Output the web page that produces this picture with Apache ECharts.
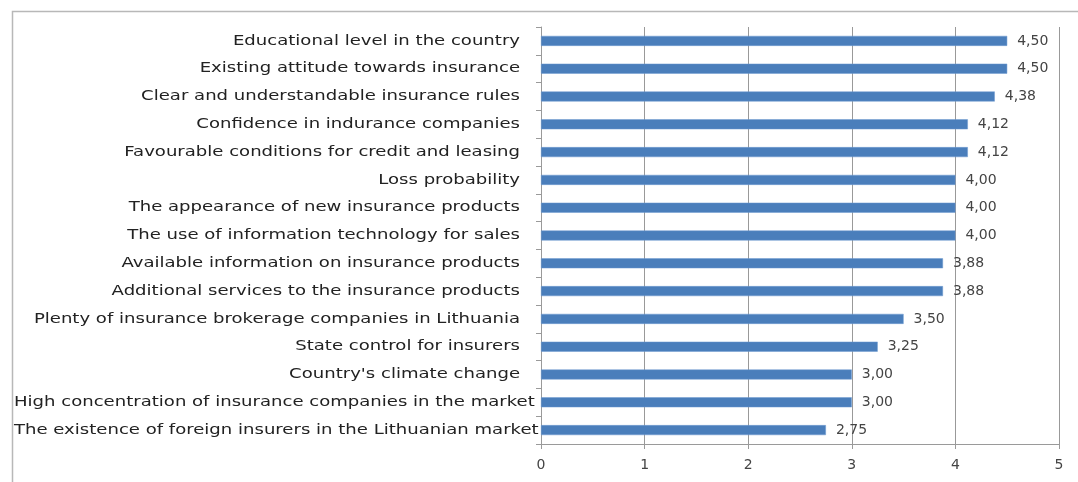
<!DOCTYPE html>
<html>
<head>
<meta charset="utf-8">
<script src="https://cdn.jsdelivr.net/npm/echarts@6/dist/echarts.min.js"></script>
<style>
  html, body { margin: 0; padding: 0; background: #fff; }
  #chart { width: 1078px; height: 482px; }
</style>
</head>
<body>
<div id="chart"></div>
<script>
// Factors influencing the insurance market, average score (0–5)
const factors = [
  "Educational level in the country",
  "Existing attitude towards insurance",
  "Clear and understandable insurance rules",
  "Confidence in indurance companies",
  "Favourable conditions for credit and leasing",
  "Loss probability",
  "The appearance of new insurance products",
  "The use of information technology for sales",
  "Available information on insurance products",
  "Additional services to the insurance products",
  "Plenty of insurance brokerage companies in Lithuania",
  "State control for insurers",
  "Country's climate change",
  "High concentration of insurance companies in the market",
  "The existence of foreign insurers in the Lithuanian market"
];
const scores = [4.50, 4.50, 4.38, 4.12, 4.12, 4.00, 4.00, 4.00, 3.88, 3.88, 3.50, 3.25, 3.00, 3.00, 2.75];
const scoreTicks = [0, 1, 2, 3, 4, 5];

const chart = echarts.init(document.getElementById('chart'));
const textFont = 'DejaVu Sans';
const catFontSize = 14;
const catStretch = 1.29;   // category names are set in a widened face
const catRight = 520;      // right edge of the category name column
const frameLeft = 14;      // names never start left of this

chart.setOption({
  animation: false,
  backgroundColor: '#ffffff',
  graphic: [{
    id: 'frame',
    type: 'rect',
    left: 10, top: 9,
    shape: { width: 1100, height: 500 },
    style: { fill: 'none', stroke: '#b8b8b8', lineWidth: 1.5 },
    silent: true
  }],
  grid: { left: 541, right: 19, top: 27, bottom: 38, containLabel: false },
  xAxis: {
    type: 'value',
    min: scoreTicks[0],
    max: scoreTicks[scoreTicks.length - 1],
    interval: 1,
    axisLine: { show: true, lineStyle: { color: '#9a9a9a' } },
    axisTick: { show: true, length: 5, lineStyle: { color: '#9a9a9a' } },
    axisLabel: { color: '#444', fontFamily: textFont, fontSize: 14, margin: 14 },
    splitLine: { show: true, lineStyle: { color: '#999999', width: 1 } }
  },
  yAxis: {
    type: 'category',
    data: factors,
    inverse: true,
    axisLine: { show: true, lineStyle: { color: '#9a9a9a' } },
    axisTick: { show: true, length: 5, lineStyle: { color: '#9a9a9a' } },
    axisLabel: { show: false },
    splitLine: { show: false }
  },
  series: [{
    type: 'bar',
    data: scores,
    barWidth: 10,
    itemStyle: { color: '#4a7ebb', borderColor: '#6f9bd0', borderWidth: 0.5 },
    label: {
      show: true,
      position: 'right',
      distance: 10,
      color: '#444',
      fontFamily: textFont,
      fontSize: 14,
      formatter: p => p.value.toFixed(2).replace('.', ',')
    }
  }]
});

// Category names: placed on the y axis' own category positions,
// drawn horizontally widened and right-aligned to the name column.
const measureCtx = document.createElement('canvas').getContext('2d');
measureCtx.font = catFontSize + 'px "' + textFont + '"';
const nameLabels = factors.map((name, i) => {
  const y = chart.convertToPixel({ yAxisIndex: 0 }, i);
  const w = measureCtx.measureText(name).width * catStretch;
  const right = Math.max(catRight, frameLeft + w);
  return {
    id: 'name' + i,
    type: 'text',
    x: right,
    y: y,
    scaleX: catStretch,
    silent: true,
    style: {
      text: name,
      x: 0, y: 0,
      align: 'right',
      verticalAlign: 'middle',
      fill: '#222',
      font: catFontSize + 'px "' + textFont + '"'
    }
  };
});
chart.setOption({ graphic: nameLabels });
</script>
</body>
</html>
